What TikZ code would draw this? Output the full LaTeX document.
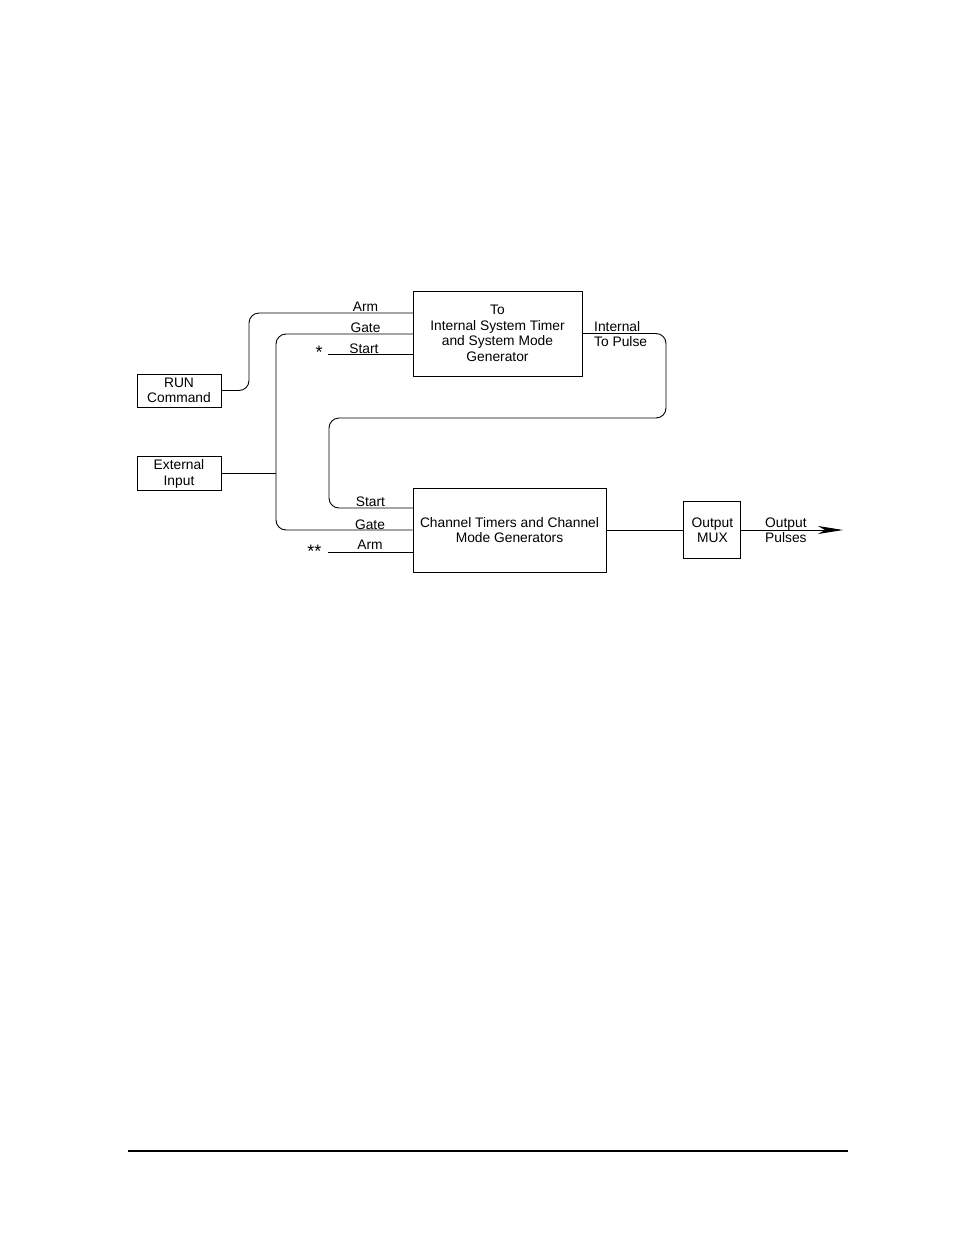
\documentclass[tikz,border=0pt]{standalone}
\usepackage{fontspec}
\setmainfont{Liberation Sans}
\usetikzlibrary{arrows.meta, positioning}

\begin{document}
\begin{tikzpicture}[x=1pt, y=-1pt,
  blk/.style={rectangle, draw, line width=0.9pt, inner sep=0pt, align=center,
              font=\fontsize{13.8}{15.5}\selectfont},
  lbl/.style={inner sep=0pt, font=\fontsize{13.8}{15.5}\selectfont},
  wire/.style={line width=0.9pt, rounded corners=10pt},
  arr/.style={line width=0.9pt, -{Stealth[length=25pt, width=8pt, inset=7pt]}}
]
  \useasboundingbox (0,0) rectangle (954,1235);

  \node[blk, minimum width=169pt, minimum height=85pt] (sys) at (497.5,333.5)
    {To\\Internal System Timer\\and System Mode\\Generator};
  \node[blk, minimum width=193pt, minimum height=84pt] (ch) at (509.5,530)
    {Channel Timers and Channel\\Mode Generators};
  \node[blk, minimum width=84pt, minimum height=33pt] (run) at (179,390.5) {RUN\\Command};
  \node[blk, minimum width=84pt, minimum height=34pt, below=49pt of run] (ext) {External\\Input};
  \node[blk, minimum width=57pt, minimum height=57pt, right=77pt of ch] (mux) {Output\\MUX};

  \coordinate (sysArm) at (413,313);
  \coordinate (sysGate) at (413,334);
  \coordinate (sysStart) at (413,354);
  \coordinate (chStart) at (413,508);
  \coordinate (chArm) at (413,552);
  \coordinate (starTop) at (328,354);
  \coordinate (starBot) at (328,552);
  \coordinate (bus) at (276,473);
  \coordinate (outTip) at (843,530);
  \coordinate (footL) at (128,1151);
  \coordinate (footR) at (848,1151);

  \draw[wire] (sysArm) -- (249,313) -- (249,390.5) -- (run.east);
  \draw[wire] (sysGate) -- (276,334) -- (276,530) -- (ch.west);
  \draw[wire] (ext.east) -- (ext.east -| bus);
  \draw[wire] (starTop) -- (sysStart);
  \draw[wire] (starBot) -- (chArm);
  \draw[wire] (sys.east) -- (666,333.5) -- (666,418) -- (329,418) -- (329,508) -- (chStart);
  \draw[wire] (ch.east) -- (mux.west);
  \draw[arr] (mux.east) -- (outTip);

  \node[lbl, anchor=base] (lArm) at (365.5,311) {Arm};
  \node[lbl, anchor=base] (lGate) at (365.5,332) {Gate};
  \node[lbl, anchor=base] (lStart) at (364,353) {Start};
  \node[lbl, anchor=base] (lStartB) at (370.5,506) {Start};
  \node[lbl, anchor=base] (lGateB) at (370,529) {Gate};
  \node[lbl, anchor=base] (lArmB) at (370,549) {Arm};
  \node[lbl, font=\fontsize{18}{18}\selectfont] (star) at (319,352) {*};
  \node[lbl, font=\fontsize{18}{18}\selectfont] (stars) at (314.5,551) {**};
  \node[lbl, align=left, anchor=west] (lPulse) at (594,334) {Internal\\To Pulse};
  \node[lbl, align=left, anchor=west] (lOut) at (765,530) {Output\\Pulses};

  \draw[line width=1.2pt] (footL) -- (footR);
\end{tikzpicture}
\end{document}
